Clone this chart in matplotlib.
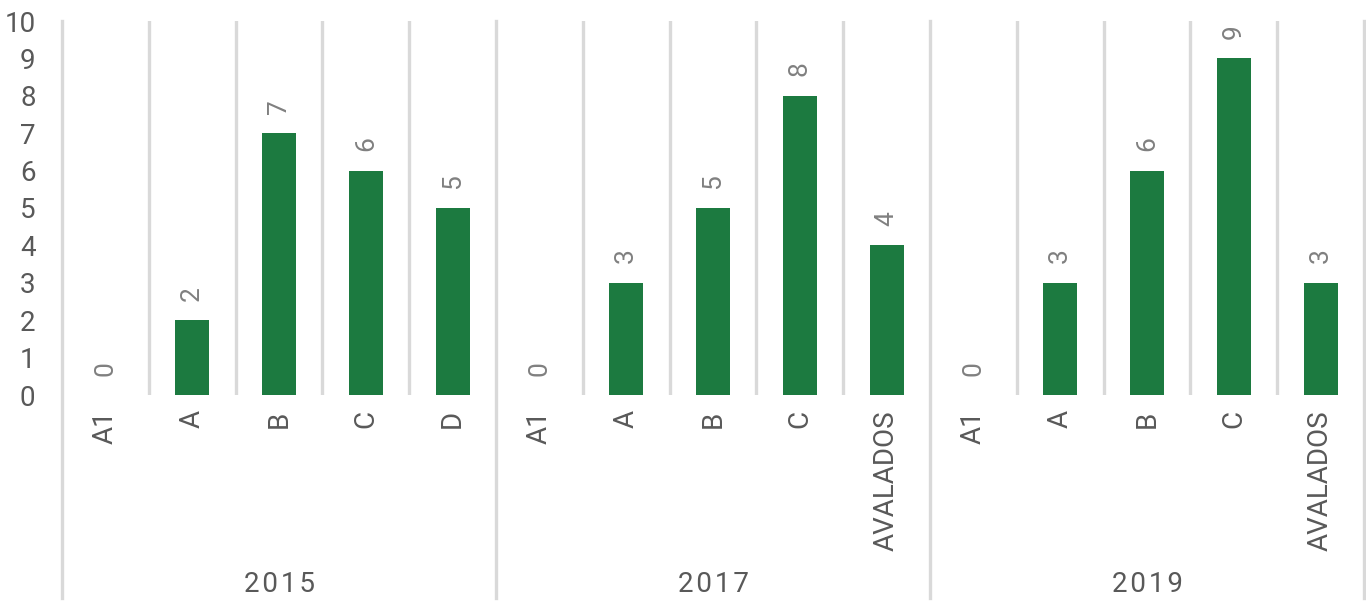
import matplotlib
matplotlib.use("Agg")
import matplotlib.pyplot as plt
from matplotlib.transforms import blended_transform_factory

plt.rcParams['font.family'] = ['Roboto', 'DejaVu Sans']

groups = ["2015", "2017", "2019"]
categories = [
    ["A1", "A", "B", "C", "D"],
    ["A1", "A", "B", "C", "AVALADOS"],
    ["A1", "A", "B", "C", "AVALADOS"],
]
values = [
    [0, 2, 7, 6, 5],
    [0, 3, 5, 8, 4],
    [0, 3, 6, 9, 3],
]

bar_color = "#1C7A40"
grid_color = "#D9D9D9"
tick_color = "#595959"
value_color = "#808080"

W, H = 1366, 603
fig = plt.figure(figsize=(W / 100, H / 100), dpi=100)
ax = fig.add_axes([62 / W, (H - 395) / H, (1364 - 62) / W, (395 - 21) / H])

labels = [c for g in categories for c in g]
vals = [v for g in values for v in g]
xs = list(range(len(labels)))

ax.bar(xs, vals, width=0.39, color=bar_color, zorder=3)

for x, v in zip(xs, vals):
    ax.annotate(str(v), (x, v), xytext=(0, 14), textcoords="offset points",
                rotation=90, ha="center", va="bottom", fontsize=19,
                color=value_color)

ax.set_xlim(-0.5, len(labels) - 0.5)
ax.set_ylim(0, 10)
ax.set_yticks(range(0, 11))
ax.set_xticks(xs)
ax.set_xticklabels(labels, rotation=90, va="top", ha="center")
ax.tick_params(axis="y", length=0, pad=19, labelsize=20, labelcolor=tick_color)
ax.tick_params(axis="x", length=0, pad=11, labelsize=20, labelcolor=tick_color)
for s in ax.spines.values():
    s.set_visible(False)

# category boundary lines
n_per = [len(g) for g in categories]
group_edges = [-0.5]
acc = -0.5
for n in n_per:
    acc += n
    group_edges.append(acc)
for i in range(len(labels) + 1):
    xb = i - 0.5
    if xb in group_edges:
        ax.axvline(xb, ymin=-(598 - 395) / (395 - 21), ymax=1, color=grid_color,
                   lw=2.4, clip_on=False, zorder=1)
    else:
        ax.axvline(xb, ymin=0, ymax=1, color=grid_color, lw=2.4, zorder=1)

trans = blended_transform_factory(ax.transData, fig.transFigure)
for gi, g in enumerate(groups):
    center = (group_edges[gi] + group_edges[gi + 1]) / 2
    ax.text(center, 1 - 585 / H, "\u200a".join(g), transform=trans,
            ha="center", va="center", fontsize=20, color=tick_color)

fig.savefig("out.png", dpi=100)
